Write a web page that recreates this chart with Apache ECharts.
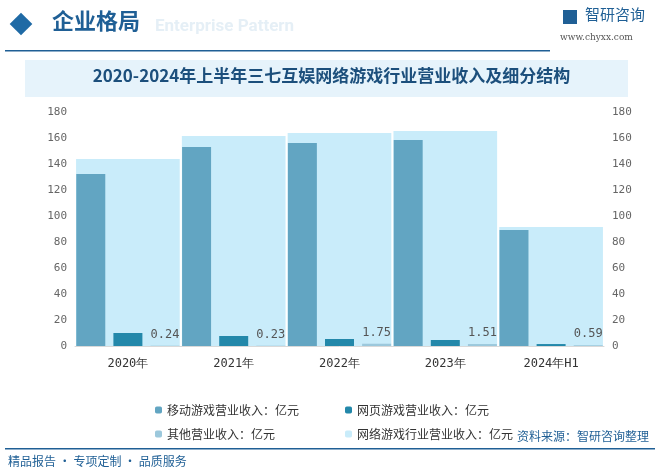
<!DOCTYPE html>
<html><head><meta charset="utf-8">
<script src="https://cdn.jsdelivr.net/npm/echarts@6/dist/echarts.min.js"></script>
<style>html,body{margin:0;padding:0;background:#fff}#c{width:663px;height:475px}</style>
</head><body><div id="c"></div>
<script>
var years = ['2020年', '2021年', '2022年', '2023年', '2024年H1'];
var mobile = [132.3, 153.1, 156.2, 158.5, 89.2];
var web = [10, 7.7, 5.4, 4.6, 1.5];
var other = [0.24, 0.23, 1.75, 1.51, 0.59];
var total = [143.8, 161.5, 163.8, 165.4, 91.5];

var chart = echarts.init(document.getElementById('c'));
var font = 'Noto Sans CJK SC';
var mono = 'DejaVu Sans Mono';
var legendBase = {orient: 'vertical', top: 399, itemWidth: 7, itemHeight: 7, itemGap: 12,
  textStyle: {fontSize: 12, color: '#333', fontFamily: font}};
chart.setOption({
  animation: false,
  textStyle: {fontFamily: font},
  graphic: [
    {type: 'rect', shape: {x: 13, y: 16, width: 16, height: 16}, rotation: Math.PI / 4, originX: 21, originY: 24, style: {fill: '#1f6aa5'}},
    {type: 'text', left: 52, top: 10, style: {text: '企业格局', font: 'bold 22px "Noto Sans CJK SC"', fill: '#1f5f95'}},
    {type: 'text', left: 155, top: 18, style: {text: 'Enterprise Pattern', font: 'bold 17px Roboto', fill: 'rgba(150,190,220,0.25)'}},
    {type: 'rect', shape: {x: 5, y: 50, width: 545, height: 1.5}, style: {fill: '#1f5f95'}},
    {type: 'text', left: 585, top: 7, style: {text: '智研咨询', font: '15px "Noto Sans CJK SC"', fill: '#1f5f95'}},
    {type: 'rect', shape: {x: 563, y: 10, width: 14, height: 14}, style: {fill: '#1f5f95'}},
    {type: 'text', left: 560, top: 33, style: {text: 'www.chyxx.com', font: '9px "DejaVu Serif"', fill: '#555'}},
    {type: 'rect', shape: {x: 25, y: 60, width: 603, height: 37}, style: {fill: '#e6f3fb'}},
    {type: 'text', left: 'center', top: 67, style: {text: '2020-2024年上半年三七互娱网络游戏行业营业收入及细分结构', font: 'bold 17px "Noto Sans CJK SC"', fill: '#1c4f7c'}},
    {type: 'rect', shape: {x: 5, y: 448, width: 650, height: 1.5}, style: {fill: '#1f5f95'}},
    {type: 'text', left: 8, top: 455, style: {text: '精品报告 · 专项定制 · 品质服务', font: '12px "Noto Sans CJK SC"', fill: '#1f5f95'}},
    {type: 'text', right: 14, top: 430, style: {text: '资料来源：智研咨询整理', font: '12px "Noto Sans CJK SC"', fill: '#1f5f95'}}
  ],
  legend: [
    Object.assign({left: 150, data: ['移动游戏营业收入：亿元', '其他营业收入：亿元']}, legendBase),
    Object.assign({left: 340, data: ['网页游戏营业收入：亿元', '网络游戏行业营业收入：亿元']}, legendBase)
  ],
  grid: {left: 75, right: 59, top: 112, bottom: 129},
  xAxis: [
    {type: 'category', data: years, axisTick: {show: false}, axisLine: {lineStyle: {color: '#d9d9d9'}},
     axisLabel: {color: '#333', fontSize: 12, margin: 12, fontFamily: mono}},
    {type: 'category', data: years, show: false}
  ],
  yAxis: [
    {type: 'value', min: 0, max: 180, interval: 20, splitLine: {show: false}, axisLabel: {color: '#666', fontFamily: mono, fontSize: 11}},
    {type: 'value', min: 0, max: 180, interval: 20, splitLine: {show: false}, axisLabel: {color: '#666', fontFamily: mono, fontSize: 11}}
  ],
  series: [
    {name: '网络游戏行业营业收入：亿元', type: 'bar', xAxisIndex: 1, yAxisIndex: 1, data: total, barWidth: '98%', z: 1,
     itemStyle: {color: '#c9ecfa'}},
    {name: '移动游戏营业收入：亿元', type: 'bar', data: mobile, barWidth: 29, barGap: '28%', barCategoryGap: '1%', z: 3,
     itemStyle: {color: '#62a5c2'}},
    {name: '网页游戏营业收入：亿元', type: 'bar', data: web, barWidth: 29, z: 3, itemStyle: {color: '#2388aa'}},
    {name: '其他营业收入：亿元', type: 'bar', data: other, barWidth: 29, z: 3, itemStyle: {color: '#9cc8dc'},
     label: {show: true, position: 'top', color: '#555', fontFamily: mono, fontSize: 12}}
  ]
});
</script></body></html>
